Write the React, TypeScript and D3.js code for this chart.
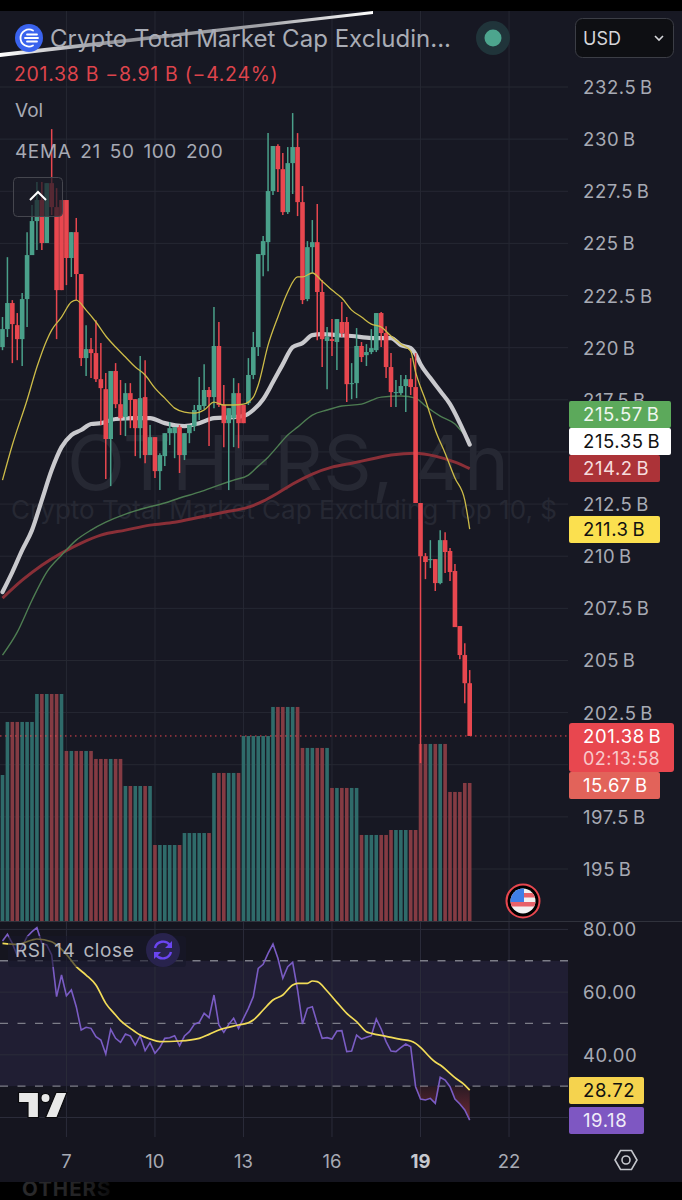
import * as d3 from "d3"

const W = 682
const H = 1200
const PLOT_R = 568

const FONT = "Inter, 'Noto Sans', sans-serif"
const AXIS_TEXT = "#a7aab4"
const GRID = "#262833"
const UP = "#4aa08a"
const DOWN = "#e8474f"
const VOL_UP = "#2f6b6a"
const VOL_DOWN = "#843b43"

const priceTicks = [232.5, 230, 227.5, 225, 222.5, 220, 217.5, 215, 212.5, 210, 207.5, 205, 202.5, 200, 197.5, 195]
// these two sit fully behind the price tags
const hiddenPriceLabels = [215, 200]
const rsiTicks = [80, 60, 40, 20]
const rsiBands = [70, 50, 30]
const dayTicks = [7, 10, 13, 16, 19, 22]

const opens = [
  220.03, 220.89, 222.14, 221.08, 220.41, 222.33, 224.44, 226.07, 227.08, 225.02,
  227.89, 226.74, 227.08, 227.08, 224.30, 225.54, 223.53, 219.50, 219.93, 219.74,
  218.49, 218.01, 215.62, 218.88, 217.29, 216.67, 217.82, 217.53, 216.14, 217.63,
  214.85, 215.71, 214.08, 214.80, 215.90, 215.90, 216.19, 214.85, 215.90, 216.24,
  217.01, 217.20, 217.97, 217.63, 220.08, 217.25, 216.38, 216.62, 217.82, 217.25,
  217.34, 218.69, 220.03, 224.44, 225.06, 227.51, 229.67, 228.56, 226.50, 228.85,
  229.62, 226.98, 222.33, 224.82, 225.06, 222.67, 220.32, 220.41, 220.27, 221.23,
  221.23, 218.25, 218.30, 220.08, 219.64, 219.79, 219.88, 221.66, 220.70, 219.07,
  217.82, 217.82, 218.16, 218.49, 218.11, 212.55, 210.00, 209.81, 209.86, 208.71,
  210.77, 210.25, 209.29, 206.65, 205.26, 203.91,
]
const highs = [
  221.47, 224.34, 222.28, 221.66, 222.62, 225.54, 226.84, 227.94, 227.94, 227.89,
  230.48, 227.65, 227.08, 227.08, 225.54, 226.22, 223.53, 221.08, 220.46, 221.32,
  220.22, 218.78, 218.88, 219.26, 218.45, 218.30, 218.30, 217.53, 219.60, 219.40,
  216.29, 215.71, 214.94, 215.90, 216.43, 216.19, 216.29, 215.90, 216.29, 217.25,
  218.59, 219.21, 218.11, 221.95, 221.23, 218.21, 217.10, 218.54, 218.30, 217.25,
  219.50, 220.75, 224.49, 225.35, 230.29, 229.67, 229.76, 229.33, 229.62, 231.25,
  230.29, 227.75, 225.11, 226.12, 226.89, 223.24, 220.99, 221.37, 221.37, 222.19,
  221.47, 219.26, 220.94, 220.27, 220.17, 220.89, 221.66, 221.71, 221.03, 219.74,
  218.45, 218.69, 218.69, 219.50, 219.74, 212.55, 210.15, 210.77, 209.86, 211.25,
  211.15, 210.39, 209.62, 206.65, 205.83, 204.54,
]
const lows = [
  219.88, 220.51, 219.26, 219.40, 219.12, 220.99, 224.44, 224.68, 224.68, 225.02,
  226.36, 220.41, 222.76, 223.00, 223.39, 222.28, 219.12, 218.64, 218.54, 218.35,
  216.29, 213.70, 213.36, 217.10, 215.81, 215.76, 216.14, 214.80, 214.70, 214.46,
  214.85, 213.75, 213.17, 214.32, 215.33, 214.70, 213.99, 214.61, 215.42, 216.00,
  216.53, 217.05, 215.28, 217.10, 217.15, 215.23, 213.17, 215.23, 215.18, 216.38,
  217.25, 218.49, 219.60, 223.43, 223.67, 227.32, 227.46, 226.36, 226.41, 227.37,
  226.31, 222.09, 222.23, 223.58, 220.36, 219.07, 218.01, 219.60, 218.93, 220.51,
  217.39, 217.53, 217.58, 219.31, 219.12, 219.69, 219.79, 220.03, 218.54, 217.15,
  217.15, 217.73, 216.91, 217.73, 212.55, 200.08, 208.90, 209.43, 208.33, 208.66,
  209.19, 208.81, 206.60, 205.06, 202.95, 201.38,
]
const closes = [
  220.89, 222.14, 221.13, 220.41, 222.33, 224.44, 226.07, 227.08, 225.02, 227.89,
  226.74, 222.76, 222.76, 224.30, 225.54, 223.53, 219.50, 219.93, 219.74, 218.49,
  218.06, 215.62, 218.88, 217.29, 216.62, 217.82, 217.49, 216.14, 217.58, 214.85,
  215.71, 214.08, 214.85, 215.90, 216.14, 216.19, 214.85, 215.90, 216.29, 217.01,
  217.25, 217.97, 217.63, 220.08, 217.25, 216.38, 217.10, 217.82, 216.38, 216.38,
  218.69, 220.03, 224.49, 225.11, 227.51, 229.67, 228.56, 226.50, 228.85, 229.62,
  226.98, 222.28, 224.82, 225.06, 222.67, 220.41, 220.51, 220.32, 221.37, 220.70,
  218.25, 218.30, 220.08, 219.55, 219.79, 219.98, 221.66, 220.70, 219.07, 217.87,
  217.87, 218.16, 218.49, 218.11, 212.55, 210.00, 209.72, 209.86, 208.71, 210.77,
  210.20, 209.24, 206.60, 205.26, 203.91, 201.38,
]

const volumes = [
  16.57, 22.55, 22.55, 22.55, 22.55, 22.55, 22.55, 25.70, 25.70, 25.70,
  25.70, 25.70, 25.70, 19.28, 19.28, 19.28, 19.28, 19.28, 19.28, 18.38,
  18.38, 18.38, 18.38, 18.38, 18.38, 15.33, 15.33, 15.33, 15.33, 15.33,
  15.33, 8.68, 8.68, 8.68, 8.68, 8.68, 8.68, 10.03, 10.03, 10.03,
  10.03, 10.03, 10.03, 16.80, 16.80, 16.80, 16.80, 16.80, 16.80, 20.97,
  20.97, 20.97, 20.97, 20.97, 20.97, 24.24, 24.24, 24.24, 24.24, 24.24,
  24.24, 19.62, 19.62, 19.62, 19.62, 19.62, 19.62, 15.11, 15.11, 15.11,
  15.11, 15.11, 15.11, 9.81, 9.81, 9.81, 9.81, 9.81, 9.81, 10.37,
  10.37, 10.37, 10.37, 10.37, 10.37, 20.07, 20.07, 20.07, 20.07, 20.07,
  20.07, 14.66, 14.66, 14.66, 15.67, 15.67,
]
const volumeUp = [
  1, 1, 0, 0, 1, 1, 1, 1, 0, 1,
  0, 0, 1, 0, 1, 0, 0, 1, 0, 0,
  0, 0, 1, 0, 0, 1, 0, 1, 1, 0,
  1, 0, 1, 1, 1, 1, 0, 1, 1, 1,
  1, 1, 0, 1, 0, 0, 1, 1, 0, 1,
  1, 1, 1, 1, 1, 1, 0, 0, 1, 1,
  0, 0, 1, 1, 0, 0, 1, 0, 1, 0,
  0, 1, 1, 0, 1, 1, 1, 0, 0, 0,
  1, 1, 1, 0, 0, 0, 0, 1, 0, 1,
  0, 0, 0, 0, 0, 0,
]

const ema21Bars = [0, 2, 5, 7, 9, 10, 12, 14, 15, 17, 19, 21, 23, 25, 27, 29, 31, 33, 35, 37, 39, 41, 43, 45, 47, 49, 51, 52, 54, 56, 58, 60, 61, 63, 65, 67, 69, 71, 73, 75, 77, 79, 81, 83, 84, 85, 86, 87, 88, 90, 92, 94, 95]
const ema21 = [213.65, 215.33, 217.49, 219.07, 220.36, 220.84, 221.47, 222.19, 222.28, 221.80, 221.23, 220.56, 220.03, 219.55, 219.07, 218.69, 218.06, 217.58, 217.10, 216.91, 216.86, 217.01, 217.39, 217.25, 217.25, 217.29, 217.63, 218.21, 220.12, 221.47, 222.67, 223.39, 223.39, 223.58, 223.19, 222.76, 222.38, 221.80, 221.47, 221.13, 220.99, 220.56, 220.17, 219.84, 218.83, 218.11, 217.49, 216.77, 216.05, 214.94, 213.75, 212.69, 211.30]

const ema50Bars = [0, 2, 4, 6, 8, 10, 12, 14, 16, 18, 20, 23, 27, 30, 33, 37, 40, 43, 47, 49, 51, 53, 55, 57, 59, 61, 63, 65, 68, 71, 75, 79, 81, 83, 84, 85, 87, 89, 91, 93, 95]
const ema50 = [208.28, 209.24, 210.29, 211.25, 212.69, 214.13, 215.23, 215.81, 216.05, 216.34, 216.38, 216.58, 216.62, 216.62, 216.38, 216.24, 216.38, 216.62, 216.67, 216.72, 217.01, 217.53, 218.35, 219.21, 220.03, 220.22, 220.60, 220.65, 220.60, 220.56, 220.46, 220.46, 220.12, 219.98, 219.69, 219.21, 218.54, 217.92, 217.29, 216.38, 215.35]

const ema100Bars = [0, 3, 6, 9, 12, 15, 18, 21, 25, 29, 33, 36, 40, 44, 47, 50, 52, 54, 56, 58, 60, 63, 66, 69, 73, 77, 81, 84, 86, 89, 92, 94, 95]
const ema100 = [205.26, 206.36, 207.89, 209.24, 210.05, 210.77, 211.25, 211.63, 212.02, 212.31, 212.55, 212.79, 213.07, 213.41, 213.65, 213.89, 214.32, 214.75, 215.28, 215.81, 216.19, 216.77, 217.01, 217.20, 217.29, 217.63, 217.68, 217.58, 217.20, 216.72, 216.34, 215.81, 215.57]

const ema200Bars = [0, 4, 8, 12, 16, 20, 25, 30, 35, 40, 45, 50, 53, 56, 59, 63, 67, 71, 75, 79, 84, 88, 92, 95]
const ema200 = [207.99, 208.85, 209.57, 210.15, 210.63, 211.01, 211.25, 211.49, 211.63, 211.87, 212.11, 212.35, 212.64, 213.03, 213.46, 213.94, 214.27, 214.46, 214.66, 214.85, 214.94, 214.80, 214.51, 214.20]

const rsi = [
  76.30, 78.42, 75.55, 71.62, 74.49, 77.68, 79.27, 80.55, 75.55, 75.02,
  71.83, 58.54, 65.45, 58.86, 60.67, 55.35, 47.91, 48.76, 48.44, 45.78,
  44.72, 40.25, 48.12, 45.25, 43.97, 46.63, 45.99, 43.12, 46.10, 41.31,
  43.87, 40.46, 42.38, 45.25, 45.46, 46.10, 42.91, 45.99, 47.38, 49.71,
  50.35, 53.22, 51.84, 59.07, 49.50, 47.16, 49.71, 51.63, 48.44, 51.63,
  54.82, 58.54, 67.58, 68.85, 72.36, 75.34, 70.77, 64.39, 68.11, 69.49,
  60.67, 49.82, 54.82, 55.35, 50.03, 45.25, 45.46, 45.04, 47.59, 47.69,
  41.00, 41.21, 46.31, 45.04, 45.57, 46.10, 51.42, 48.23, 44.19, 41.21,
  41.00, 42.27, 43.44, 42.59, 29.83, 25.90, 25.58, 26.11, 24.51, 32.81,
  31.96, 29.83, 25.90, 24.30, 22.39, 19.18,
]
const rsiMaBars = [0, 3, 6, 7, 10, 11, 13, 15, 17, 19, 21, 23, 24, 26, 28, 30, 32, 36, 40, 42, 44, 48, 50, 51, 53, 55, 57, 59, 60, 62, 63, 64, 66, 68, 70, 72, 74, 75, 78, 81, 83, 84, 85, 87, 88, 89, 91, 92, 94, 95]
const rsiMa = [75.55, 75.23, 76.62, 76.93, 76.08, 75.02, 72.04, 68.11, 65.45, 62.26, 56.41, 52.69, 50.88, 48.44, 46.31, 45.04, 44.19, 44.40, 45.25, 46.52, 47.91, 49.50, 50.25, 51.10, 54.29, 57.48, 59.07, 62.26, 62.79, 62.79, 63.54, 63.32, 60.35, 56.73, 53.22, 50.57, 47.38, 46.84, 45.89, 44.93, 44.40, 43.65, 42.38, 39.08, 37.70, 36.74, 34.08, 32.70, 30.36, 28.72]

const x = d3.scaleLinear().domain([0, 95]).range([2.5, 469.7])
const y = d3.scaleLinear().domain([232.5, 195]).range([87, 869])
const yVol = d3.scaleLinear().domain([0, 25.7]).range([922, 694])
const yRsi = d3.scaleLinear().domain([80, 20]).range([929.4, 1117.5])
const barOfDay = (d: number) => 85 + (d - 19) * 6

const priceLabel = (v: number) => `${v} B`

function emaPath(bars: number[], vals: number[]) {
  const line = d3
    .line<number>()
    .x((b) => x(b))
    .y((_, i) => y(vals[i]))
    .curve(d3.curveMonotoneX)
  return line(bars) ?? ""
}

const rsiLine = d3
  .line<number>()
  .x((_, i) => x(i))
  .y((v) => yRsi(v))

const rsiMaLine = d3
  .line<number>()
  .x((b) => x(b))
  .y((_, i) => yRsi(rsiMa[i]))
  .curve(d3.curveMonotoneX)

// oversold shading between the 30 line and the RSI
const rsiOversold = d3
  .area<number>()
  .x((_, i) => x(i + 84))
  .y0(yRsi(30))
  .y1((v) => yRsi(Math.min(v, 30)))

function Tag({ top, w, fill, color, text }: { top: number; w: number; fill: string; color: string; text: string }) {
  return (
    <g>
      <rect x={569} y={top} width={w} height={27} rx={2} fill={fill} />
      <text x={583} y={top + 20} fill={color} fontSize={18.5} letterSpacing={0.6} wordSpacing={-2}>{text}</text>
    </g>
  )
}

export default function App() {
  return (
    <svg
      width={W}
      height={H}
      viewBox={`0 0 ${W} ${H}`}
      style={{ position: "absolute", left: 0, top: 0, display: "block", fontFamily: FONT }}
    >
      <defs>
        <clipPath id="plot"><rect x={0} y={11} width={PLOT_R} height={910} /></clipPath>
        <clipPath id="flag"><circle cx={523} cy={901} r={12.5} /></clipPath>
        <linearGradient id="scratch" x1="0" x2="1" y1="0" y2="0">
          <stop offset="0" stopColor="#ffffff" />
          <stop offset="0.3" stopColor="#8f9096" />
          <stop offset="0.7" stopColor="#a2a3a8" />
          <stop offset="1" stopColor="#ffffff" />
        </linearGradient>
        <linearGradient id="oversold" x1="0" x2="0" y1="0" y2="1">
          <stop offset="0" stopColor="#e8474f" stopOpacity={0.1} />
          <stop offset="1" stopColor="#e8474f" stopOpacity={0.42} />
        </linearGradient>
        <linearGradient id="stamp" x1="0" x2="1" y1="0" y2="0">
          <stop offset="0" stopColor="#2a2a2c" />
          <stop offset="0.7" stopColor="#232325" />
          <stop offset="1" stopColor="#0c0c0d" />
        </linearGradient>
      </defs>

      <rect width={W} height={H} fill="#000" />
      <rect x={0} y={11} width={W} height={1171} fill="#171823" />
      <text x={22} y={1196} fontSize={20.5} fontWeight={700} letterSpacing={1} fill="url(#stamp)">OTHERS</text>

      {/* rsi pane background */}
      <rect x={0} y={922} width={W} height={260} fill="#15151f" />
      <rect x={0} y={yRsi(70)} width={PLOT_R} height={yRsi(30) - yRsi(70)} fill="#201e33" />

      {/* grid */}
      {priceTicks.map((t) => (
        <line key={t} x1={0} x2={PLOT_R} y1={y(t)} y2={y(t)} stroke={GRID} />
      ))}
      {rsiTicks.map((t) => (
        <line key={t} x1={0} x2={PLOT_R} y1={yRsi(t)} y2={yRsi(t)} stroke="#2b2c3a" />
      ))}
      {dayTicks.map((d) => (
        <g key={d}>
          <line x1={x(barOfDay(d))} x2={x(barOfDay(d))} y1={11} y2={921} stroke={GRID} />
          <line x1={x(barOfDay(d))} x2={x(barOfDay(d))} y1={922} y2={1137} stroke="#2b2c3a" />
        </g>
      ))}

      {/* watermark */}
      <text x={288} y={490} textAnchor="middle" fontSize={76} fill="#262833">OTHERS, 4h</text>
      <text x={284} y={519} textAnchor="middle" fontSize={26} fill="#262833">Crypto Total Market Cap Excluding Top 10, $</text>

      <g clipPath="url(#plot)">
        {volumes.map((v, i) => (
          <rect
            key={i}
            x={x(i) - 1.8}
            width={3.6}
            y={yVol(v)}
            height={yVol(0) - yVol(v)}
            fill={volumeUp[i] ? VOL_UP : VOL_DOWN}
          />
        ))}

        <line x1={0} x2={PLOT_R} y1={y(closes[95])} y2={y(closes[95])} stroke={DOWN} strokeDasharray="1.5 3.5" />

        <path d={emaPath(ema200Bars, ema200)} fill="none" stroke="#8a2f37" strokeWidth={3} />
        <path d={emaPath(ema100Bars, ema100)} fill="none" stroke="#4e7d52" strokeWidth={1.4} />
        <path d={emaPath(ema50Bars, ema50)} fill="none" stroke="#c9c9cd" strokeWidth={4.2} strokeLinecap="round" />

        {opens.map((o, i) => {
          const c = closes[i]
          const col = c >= o ? UP : DOWN
          const top = y(Math.max(o, c))
          return (
            <g key={i}>
              <line x1={x(i)} x2={x(i)} y1={y(highs[i])} y2={y(lows[i])} stroke={col} strokeWidth={1.5} />
              <rect x={x(i) - 2.3} width={4.6} y={top} height={Math.max(1, y(Math.min(o, c)) - top)} fill={col} />
            </g>
          )
        })}

        <path d={emaPath(ema21Bars, ema21)} fill="none" stroke="#cdbc48" strokeWidth={1.3} />
      </g>

      {/* rsi */}
      {rsiBands.map((b) => (
        <line key={b} x1={0} x2={PLOT_R} y1={yRsi(b)} y2={yRsi(b)} stroke="#7c7d88" strokeWidth={1.3} strokeDasharray="8 9.5" />
      ))}
      <path d={rsiOversold(rsi.slice(84)) ?? ""} fill="url(#oversold)" />
      <path d={rsiLine(rsi) ?? ""} fill="none" stroke="#7a5cc4" strokeWidth={1.6} />
      <path d={rsiMaLine(rsiMaBars) ?? ""} fill="none" stroke="#f2dc58" strokeWidth={1.7} />

      {/* scratch across the header */}
      <polygon points="0,53 373,11 373,14 0,57" fill="url(#scratch)" />

      {/* header */}
      <circle cx={29} cy={38} r={14} fill="#3a63ee" />
      <g fill="none" stroke="#fff" strokeWidth={1.8} strokeLinecap="round">
        <path d="M33 30.5 A8.5 8.5 0 1 0 33 45.5" />
        <path d="M27 34.5 H37 M25 38 H38 M27 41.5 H37" />
      </g>
      <text x={50} y={46.5} fontSize={24} fill="#a9acb5" textLength={401}>Crypto Total Market Cap Excludin...</text>
      <circle cx={493} cy={38} r={17} fill="#20343a" />
      <circle cx={493} cy={38} r={8.5} fill="#4da58e" />
      <rect x={575.5} y={18.5} width={98} height={39} rx={7} fill="#0e0f13" stroke="#3c3e46" />
      <text x={583} y={45} fontSize={18} fill="#d5d6da">USD</text>
      <path d="M655 36 L659 40 L663 36" fill="none" stroke="#d5d6da" strokeWidth={1.6} />

      <text x={14} y={81} fontSize={19.5} letterSpacing={0.7} fill="#dd444c">201.38 B  −8.91 B (−4.24%)</text>
      <text x={15} y={117} fontSize={19} fill="#a7aab4">Vol</text>
      <text x={15} y={158} fontSize={19} letterSpacing={0.6} fill="#a7aab4" wordSpacing={3}>4EMA 21 50 100 200</text>
      <rect x={13.5} y={177.5} width={49} height={39} rx={4} fill="#1c1d28" fillOpacity={0.72} stroke="#45464e" />
      <path d="M30 200 L38 192 L46 200" fill="none" stroke="#fff" strokeWidth={2} />

      {/* price axis */}
      {priceTicks.filter((t) => !hiddenPriceLabels.includes(t)).map((t) => (
        <text key={t} x={583} y={y(t) + 7} fontSize={18.5} letterSpacing={0.6} fill={AXIS_TEXT} wordSpacing={-2}>{priceLabel(t)}</text>
      ))}
      <rect x={569} y={723} width={105} height={49} rx={3} fill={DOWN} />
      <text x={583} y={743} fontSize={18.5} letterSpacing={0.6} fill="#fff" wordSpacing={-2}>{priceLabel(closes[95])}</text>
      <text x={583} y={765} fontSize={18} letterSpacing={0.5} fill="#f8c9cb">02:13:58</text>
      <Tag top={772} w={91} fill="#e2635a" color="#fff" text="15.67 B" />
      <Tag top={401} w={102} fill="#5ca95b" color="#eef6ee" text={priceLabel(215.57)} />
      <Tag top={428} w={102} fill="#ffffff" color="#111" text={priceLabel(215.35)} />
      <Tag top={455} w={91} fill="#ac3338" color="#f6dcdd" text={priceLabel(214.2)} />
      <Tag top={516} w={91} fill="#fbe04f" color="#111" text={priceLabel(211.3)} />

      {/* flag */}
      <circle cx={523} cy={901} r={16.5} fill="#000" stroke={DOWN} strokeWidth={2} />
      <g clipPath="url(#flag)">
        <rect x={510} y={888} width={26} height={26} fill="#f2f2f2" />
        <rect x={510} y={893} width={26} height={4.5} fill="#e8626a" />
        <rect x={510} y={902} width={26} height={4.5} fill="#e8626a" />
        <rect x={510} y={888} width={14} height={14} fill="#3f7fe8" />
      </g>

      {/* separators */}
      <line x1={0} x2={W} y1={921.5} y2={921.5} stroke="#30323c" />

      {/* rsi axis */}
      {[80, 60, 40].map((t) => (
        <text key={t} x={583} y={yRsi(t) + 7} fontSize={18.5} letterSpacing={0.6} fill={AXIS_TEXT}>{t.toFixed(2)}</text>
      ))}
      <Tag top={1077} w={75} fill="#f5d34e" color="#111" text={rsiMa[rsiMa.length - 1].toFixed(2)} />
      <Tag top={1107} w={75} fill="#7e57c2" color="#f0ecf8" text={rsi[95].toFixed(2)} />

      {/* rsi legend */}
      <rect x={8} y={936} width={178} height={31} fill="#17172a" fillOpacity={0.6} rx={3} />
      <text x={15} y={957} fontSize={19} letterSpacing={0.6} fill="#b4b6be" wordSpacing={2}>RSI 14 close</text>
      <circle cx={163} cy={950} r={17} fill="#28234d" />
      <g fill="none" stroke="#6a45f0" strokeWidth={2.4}>
        <path d="M155 948 A8.5 8.5 0 0 1 170 945" />
        <path d="M171 952 A8.5 8.5 0 0 1 156 955" />
      </g>
      <path d="M172 941 V948 H165 Z M154 959 V952 H161 Z" fill="#6a45f0" />

      {/* tradingview mark */}
      <g fill="#e8e8e8" stroke="#0a0a0d" strokeWidth={1.2}>
        <path d="M18.5 1092.5 H38.5 V1117.5 H28 V1102.5 H18.5 Z" />
        <circle cx={45.5} cy={1098} r={4.6} />
        <path d="M56 1092.5 H67 L57 1117.5 H45.5 Z" />
      </g>

      {/* time axis */}
      {dayTicks.map((d) => (
        <text
          key={d}
          x={x(barOfDay(d))}
          y={1168}
          textAnchor="middle"
          fontSize={18.5}
          fontWeight={d === 19 ? 700 : 400}
          fill={d === 19 ? "#c6c8ce" : AXIS_TEXT}
        >
          {d}
        </text>
      ))}

      {/* settings */}
      <path d="M615 1160 L620.5 1150.5 H631.5 L637 1160 L631.5 1169.5 H620.5 Z" fill="none" stroke="#c4c6cc" strokeWidth={1.6} />
      <circle cx={626} cy={1160} r={4} fill="none" stroke="#c4c6cc" strokeWidth={1.6} />
    </svg>
  )
}
